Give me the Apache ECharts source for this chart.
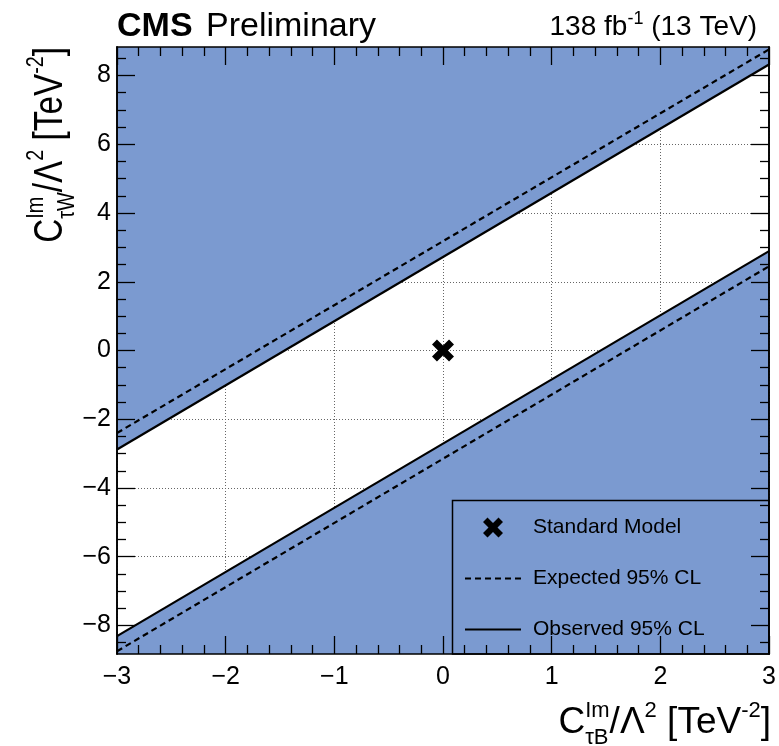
<!DOCTYPE html>
<html>
<head>
<meta charset="utf-8">
<script src="https://cdn.jsdelivr.net/npm/echarts@6/dist/echarts.min.js"></script>
<style>
  html, body { margin: 0; padding: 0; background: #ffffff; }
  #chart { width: 779px; height: 746px; }
</style>
</head>
<body>
<div id="chart"></div>
<script>
// ---- data ----
const xEnds = [-3, 3];
const obsUpper = [-2.88, 8.32];
const obsLower = [-8.31, 2.89];
const expUpper = [-2.40, 8.76];
const expLower = [-8.75, 2.45];
const smPoint = [0, 0];
const xRange = [-3, 3];
const yRange = [-8.83, 8.83];
const yTicks = [-8, -6, -4, -2, 0, 2, 4, 6, 8];
const yMinorTicks = [-8.5, -7.5, -7, -6.5, -5.5, -5, -4.5, -3.5, -3, -2.5, -1.5, -1, -0.5,
                     0.5, 1, 1.5, 2.5, 3, 3.5, 4.5, 5, 5.5, 6.5, 7, 7.5, 8.5];
const legendNames = ['Standard Model', 'Expected 95% CL', 'Observed 95% CL'];

// ---- style ----
const FONT = '"Liberation Sans", Arial, Helvetica, sans-serif';
const FILL = '#7b9ad0';
const XPATH = 'path://M0,4.5 L4.5,0 L10,5.5 L15.5,0 L20,4.5 L14.5,10 L20,15.5 L15.5,20 L10,14.5 L4.5,20 L0,15.5 L5.5,10 Z';

const cvs = document.createElement('canvas');
const ctx = cvs.getContext('2d');
function tw(text, size, weight) {
  ctx.font = (weight || 'normal') + ' ' + size + 'px ' + FONT;
  return ctx.measureText(text).width;
}
function txt(text, x, baseline, size, weight, align) {
  return {
    type: 'text', x: x, y: baseline - 0.31 * size,
    style: { text: text, fontFamily: FONT, fontSize: size, fontWeight: weight || 'normal',
             fill: '#000', align: align || 'left', verticalAlign: 'middle' }
  };
}
// parts: {t,s} main, {sup,s} superscript, {sup, sub, s} stacked
function buildLabel(parts, supRaise, subDrop) {
  let widths = parts.map(p => {
    if (p.t !== undefined) return tw(p.t, p.s);
    const a = p.sup ? tw(p.sup, p.s) : 0;
    const b = p.sub ? tw(p.sub, p.s) : 0;
    return Math.max(a, b);
  });
  const total = widths.reduce((a, b) => a + b, 0);
  let x = -total;
  const children = [];
  parts.forEach((p, i) => {
    if (p.t !== undefined) children.push(txt(p.t, x, 0, p.s));
    else {
      if (p.sup) children.push(txt(p.sup, x, -supRaise, p.s));
      if (p.sub) children.push(txt(p.sub, x, subDrop, p.s));
    }
    x += widths[i];
  });
  return children;
}
const minusFmt = v => (v < 0 ? '\u2212' + (-v) : String(v));

const xTitle = buildLabel([
  { t: 'C', s: 37 }, { sup: 'Im', sub: '\u03c4B', s: 22 }, { t: '/\u039b', s: 37 },
  { sup: '2', s: 22 }, { t: ' [TeV', s: 37 }, { sup: '-2', s: 22 }, { t: ']', s: 37 }
], 16, 11);
const yTitle = buildLabel([
  { t: 'C', s: 37 }, { sup: 'Im', sub: '\u03c4W', s: 22 }, { t: '/\u039b', s: 37 },
  { sup: '2', s: 22 }, { t: ' [TeV', s: 37 }, { sup: '-2', s: 22 }, { t: ']', s: 37 }
], 17, 11);
const lumi = buildLabel([
  { t: '138 fb', s: 28 }, { sup: '-1', s: 18 }, { t: ' (13 TeV)', s: 28 }
], 11, 0);

const G = { left: 117, top: 47, width: 652, height: 607 };

function xAx(pos, labels, split) {
  return {
    type: 'value', min: xRange[0], max: xRange[1], interval: 1, position: pos,
    z: split ? 0 : 5,
    axisLine: { show: !split, onZero: false, lineStyle: { color: '#000', width: 1.6 } },
    axisTick: { show: !split, inside: true, length: 18, lineStyle: { color: '#000', width: 1.3 } },
    minorTick: { show: !split, splitNumber: 5, length: 9, lineStyle: { color: '#000', width: 1.3 } },
    axisLabel: { show: labels, formatter: minusFmt, fontFamily: FONT, fontSize: 25, color: '#000', margin: 11 },
    splitLine: { show: split, lineStyle: { color: '#666', type: [1, 2], width: 1 } },
    minorSplitLine: { show: false }
  };
}
function yAx(pos, ticks, len, labels, split) {
  return {
    type: 'value', min: yRange[0], max: yRange[1], position: pos,
    z: split ? 0 : 5,
    axisLine: { show: !split, onZero: false, lineStyle: { color: '#000', width: 1.6 } },
    axisTick: { show: !split, inside: true, length: len, customValues: ticks, lineStyle: { color: '#000', width: 1.3 } },
    minorTick: { show: false },
    axisLabel: { show: labels, customValues: ticks, formatter: minusFmt, fontFamily: FONT, fontSize: 25, color: '#000', margin: 6 },
    splitLine: { show: split, lineStyle: { color: '#666', type: [1, 2], width: 1 } }
  };
}

const chart = echarts.init(document.getElementById('chart'), null, { renderer: 'canvas' });
chart.setOption({
  animation: false,
  backgroundColor: '#fff',
  grid: G,
  xAxis: [xAx('bottom', true, false), xAx('top', false, false), xAx('bottom', false, true)],
  yAxis: [
    yAx('left', yTicks, 18, true, false),
    yAx('left', yMinorTicks, 9, false, false),
    yAx('right', yTicks, 18, false, false),
    yAx('right', yMinorTicks, 9, false, false),
    yAx('left', yTicks, 0, false, true)
  ],
  legend: {
    orient: 'vertical', left: 464, top: 517, padding: 0,
    itemWidth: 56, itemHeight: 20, itemGap: 30,
    selectedMode: false,
    textStyle: { fontFamily: FONT, fontSize: 21, color: '#000', padding: [0, 0, 0, 7] },
    data: [
      { name: legendNames[0], icon: XPATH, itemStyle: { color: '#000', opacity: 1 } },
      { name: legendNames[1], itemStyle: { opacity: 0 } },
      { name: legendNames[2], itemStyle: { opacity: 0 } }
    ]
  },
  series: [
    {
      name: legendNames[2], type: 'line', symbol: 'none', z: 2,
      data: xEnds.map((x, i) => [x, obsUpper[i]]),
      lineStyle: { color: '#000', width: 2.2 },
      itemStyle: { color: '#000' },
      areaStyle: { origin: 'end', color: FILL, opacity: 1 }
    },
    {
      name: legendNames[2], type: 'line', symbol: 'none', z: 2,
      data: xEnds.map((x, i) => [x, obsLower[i]]),
      lineStyle: { color: '#000', width: 2.2 },
      itemStyle: { color: '#000' },
      areaStyle: { origin: 'start', color: FILL, opacity: 1 }
    },
    {
      name: legendNames[1], type: 'line', symbol: 'none', z: 3,
      data: xEnds.map((x, i) => [x, expUpper[i]]),
      lineStyle: { color: '#000', width: 2.2, type: [6, 4] },
      itemStyle: { color: '#000' }
    },
    {
      name: legendNames[1], type: 'line', symbol: 'none', z: 3,
      data: xEnds.map((x, i) => [x, expLower[i]]),
      lineStyle: { color: '#000', width: 2.2, type: [6, 4] },
      itemStyle: { color: '#000' }
    },
    {
      name: legendNames[0], type: 'scatter', z: 4,
      symbol: XPATH, symbolSize: 22, symbolKeepAspect: true,
      itemStyle: { color: '#000', opacity: 1 },
      data: [smPoint]
    }
  ],
  graphic: [
    { type: 'rect', z: 10, shape: { x: 452.5, y: 500.5, width: 316.5, height: 153.5 },
      style: { fill: null, stroke: '#000', lineWidth: 1.5 } },
    { type: 'group', z: 10, x: 117, y: 36.7, children: [txt('CMS', 0, 0, 34, 'bold')] },
    { type: 'group', z: 10, x: 206, y: 36.7, children: [txt('Preliminary', 0, 0, 34)] },
    { type: 'group', z: 10, x: 757, y: 36, children: lumi },
    { type: 'group', z: 10, x: 771, y: 734, children: xTitle },
    { type: 'group', z: 10, x: 63, y: 47, rotation: Math.PI / 2, scaleX: 0.9, scaleY: 1.12, children: yTitle }
  ]
});
</script>
</body>
</html>
